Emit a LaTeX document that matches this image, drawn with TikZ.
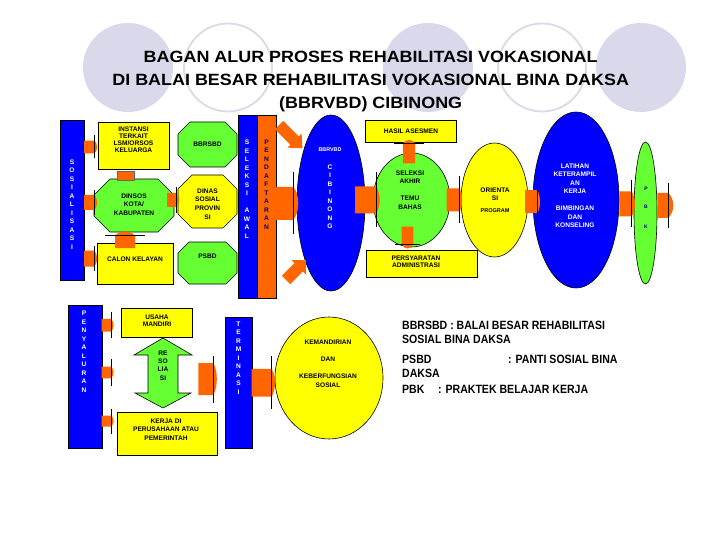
\documentclass[tikz,border=0pt]{standalone}
\usepackage{fontspec}
\setmainfont{Liberation Sans}
\newfontfamily\titlefont[FakeStretch=1.1]{Liberation Sans}
\newfontfamily\legfont[FakeStretch=0.88]{Liberation Sans}
\usetikzlibrary{shapes.geometric}
\definecolor{cblue}{RGB}{0,0,255}
\definecolor{corange}{RGB}{255,102,0}
\definecolor{cgreen}{RGB}{102,255,51}
\definecolor{cyellow}{RGB}{255,255,0}
\definecolor{cnavy}{RGB}{0,0,128}
\definecolor{lav}{RGB}{217,217,235}
\definecolor{lavline}{RGB}{218,218,232}
\tikzset{
 sm/.style={font=\fontsize{6.6}{8.5}\selectfont\bfseries, align=center, inner sep=0pt},
 vt/.style={sm, text=white},
 box/.style={draw=black, line width=0.6pt},
 headline/.style={draw=black, line width=0.8pt},
}
\newcommand\rbox[6]{\node[box, fill=#6, inner sep=0pt, minimum width={(#4-#2)*1pt}, minimum height={(#5-#3)*1pt}, anchor=north west] (#1) at (#2,#3) {};}
\newcommand\octa[7]{\filldraw[fill=#7, draw=black, line width=0.6pt] ({#2+#6},#3) -- ({#4-#6},#3) -- (#4,{#3+#6}) -- (#4,{#5-#6}) -- ({#4-#6},#5) -- ({#2+#6},#5) -- (#2,{#5-#6}) -- (#2,{#3+#6}) -- cycle; \coordinate (#1) at ({(#2+#4)/2},{(#3+#5)/2});}
\newcommand\harr[6]{\fill[corange] (#1,{#4-#5/2}) -- (#2,{#4-#5/2}) .. controls (#3,{#4-#5/4}) and (#3,{#4+#5/4}) .. (#2,{#4+#5/2}) -- (#1,{#4+#5/2}) -- cycle;
 \draw[headline] (#2,{#4-#6/2}) -- (#2,{#4+#6/2});}
\newcommand\varr[6]{\fill[corange] ({#1-#5/2},#2) -- ({#1-#5/2},#3) .. controls ({#1-#5/4},#4) and ({#1+#5/4},#4) .. ({#1+#5/2},#3) -- ({#1+#5/2},#2) -- cycle;
 \draw[headline] ({#1-#6/2},#3) -- ({#1+#6/2},#3);}
\begin{document}
\begin{tikzpicture}[x=1pt,y=-1pt]
\useasboundingbox (0,0) rectangle (720,540);
\fill[white] (0,0) rectangle (720,540);
% background circles
\foreach \cx in {128,428,641} \fill[lav] (\cx,67.5) ellipse [x radius=45, y radius=44.5];
\foreach \cx in {228,542} \draw[lavline, line width=1.8pt] (\cx,67.5) ellipse [x radius=44, y radius=44];
% title
\node[font=\titlefont\fontsize{16.3}{23}\selectfont\bfseries, align=center, inner sep=0pt] (title) at (370.7,81.5)
 {BAGAN ALUR PROSES REHABILITASI VOKASIONAL\\DI BALAI BESAR REHABILITASI VOKASIONAL BINA DAKSA\\(BBRVBD) CIBINONG};
% bars
\rbox{sosbar}{60}{120}{84}{280}{cblue}
\rbox{selbar}{238}{115}{257}{298}{cblue}
\rbox{pendbar}{257}{115}{276}{298}{corange}
\rbox{penybar}{68}{305}{102}{448}{cblue}
\rbox{termbar}{225}{317}{252}{448}{cblue}
% boxes
\rbox{inst}{98}{122}{169}{169}{cyellow}
\rbox{calon}{97}{243}{173}{284}{cyellow}
\rbox{hasil}{365}{120}{456}{142}{cyellow}
\rbox{pers}{366}{250}{477}{277}{cyellow}
\rbox{usaha}{121}{308}{192}{337}{cyellow}
\rbox{kerja}{117}{412}{217}{455}{cyellow}
% octagons
\octa{bbrsbd}{178}{122}{237}{167}{12}{cgreen}
\octa{dinsos}{94}{179}{174}{232}{16}{cgreen}
\octa{dinas}{178}{175}{237}{228}{14}{cyellow}
\octa{psbd}{178}{242}{237}{284}{11}{cgreen}
% ellipses
\node[ellipse, box, fill=cblue, inner sep=0pt, minimum width=68pt, minimum height=176pt] (bbrvbd) at (331,203) {};
\node[ellipse, box, fill=cgreen, inner sep=0pt, minimum width=77pt, minimum height=94pt] (selakhir) at (411.5,200) {};
\node[ellipse, box, fill=cyellow, inner sep=0pt, minimum width=67pt, minimum height=114pt] (orient) at (494.5,200) {};
\node[ellipse, box, fill=cblue, inner sep=0pt, minimum width=86pt, minimum height=176pt] (latihan) at (576,200) {};
\node[ellipse, box, fill=cgreen, inner sep=0pt, minimum width=23pt, minimum height=142pt] (pbk) at (645.5,213) {};
\node[ellipse, box, fill=cyellow, inner sep=0pt, minimum width=108pt, minimum height=122pt] (kemand) at (329,378) {};
% resosialisasi double arrow
\filldraw[fill=cgreen, draw=black, line width=0.6pt] (163,338) -- (192,355) -- (178,355) -- (178,393) -- (191,393) -- (163,408) -- (135,393) -- (148,393) -- (148,355) -- (134,355) -- cycle;
\coordinate (reso) at (163,373);
% orange connectors
\filldraw[fill=corange, draw=black!60, line width=0.4pt] (117.3,171) rectangle (134.3,180);
\harr{84}{94.5}{98}{147}{12.7}{23}
\harr{84}{94.5}{98}{202.5}{15}{25}
\harr{84}{94.5}{98}{258.5}{16}{25}
\harr{167}{176}{180}{200}{14}{26}
\harr{276}{293.3}{300}{203.3}{33}{62}
\harr{355}{376}{381}{200}{27}{55}
\harr{446.7}{459.3}{463}{200}{23}{47}
\harr{525}{537.3}{541}{201.7}{23}{45}
\harr{619.3}{631.7}{636}{204}{25}{47}
\harr{657.3}{668.3}{675}{205.5}{25}{45}
\harr{101.7}{111}{114.5}{325.3}{12.7}{26}
\harr{101.7}{111}{114.5}{372.5}{11.7}{27}
\harr{101.7}{111}{114.5}{421}{11}{25}
\harr{198.3}{213.3}{218}{379}{32}{47}
\harr{251.7}{271.7}{276}{382.8}{27.7}{53}
\varr{125}{248}{235.7}{230}{20}{40}
\varr{409}{163.5}{143.3}{139}{12.3}{30}
\varr{407.5}{226.7}{244}{250}{11.6}{25}
\begin{scope}[shift={(279,125)}, rotate=-45]
 \fill[corange] (0,-6) -- (22,-6) -- (22,-10) -- (33,0) -- (22,10) -- (22,6) -- (0,6) -- cycle;
\end{scope}
\begin{scope}[shift={(286,280)}, rotate=45]
 \fill[corange] (0,-6) -- (18,-6) -- (18,-10) -- (28,0) -- (18,10) -- (18,6) -- (0,6) -- cycle;
\end{scope}
% texts
\node[sm, font=\fontsize{6.6}{7}\selectfont\bfseries] (tinst) at (133.5,139.5) {INSTANSI\\TERKAIT\\LSM/ORSOS\\KELUARGA};
\node[sm] (tbbrsbd) at (207.5,144) {BBRSBD};
\node[sm] (tdinsos) at (134,204.5) {DINSOS\\KOTA/\\KABUPATEN};
\node[sm, font=\fontsize{6.6}{8.7}\selectfont\bfseries] (tdinas) at (207.5,204) {DINAS\\SOSIAL\\PROVIN\\SI};
\node[sm] (tcalon) at (135,259) {CALON KELAYAN};
\node[sm] (tpsbd) at (207.5,256) {PSBD};
\node[vt] (tsos) at (72,204.5) {S\\O\\S\\I\\A\\L\\I\\S\\A\\S\\I};
\node[vt] (tsel) at (247,189) {S\\E\\L\\E\\K\\S\\I\\~\\A\\W\\A\\L};
\node[sm, text=cnavy] (tpend) at (266.5,184.5) {P\\E\\N\\D\\A\\F\\T\\A\\R\\A\\N};
\node[sm, text=white, font=\fontsize{5.4}{6}\selectfont\bfseries] (tbbrvbd) at (330,150) {BBRVBD};
\node[vt] (tcib) at (330,196.5) {C\\I\\B\\I\\N\\O\\N\\G};
\node[sm] (thasil) at (411,131) {HASIL ASESMEN};
\node[sm] (tselakhir) at (410,190) {SELEKSI\\AKHIR\\~\\TEMU\\BAHAS};
\node[sm, font=\fontsize{6.6}{7.5}\selectfont\bfseries] (tpers) at (416,261.5) {PERSYARATAN\\ADMINISTRASI};
\node[sm] (tori) at (495,194) {ORIENTA\\SI};
\node[sm, font=\fontsize{5.5}{6}\selectfont\bfseries] (tprog) at (495,211) {PROGRAM};
\node[vt] (tlat) at (575,196) {LATIHAN\\KETERAMPIL\\AN\\KERJA\\~\\BIMBINGAN\\DAN\\KONSELING};
\node[sm, font=\fontsize{5}{6}\selectfont\bfseries, text=cnavy] (tp) at (646,189) {P};
\node[sm, font=\fontsize{5}{6}\selectfont\bfseries, text=cnavy] (tb) at (646,207) {B};
\node[sm, font=\fontsize{5}{6}\selectfont\bfseries, text=cnavy] (tk) at (646,227) {K};
\node[vt] (tpeny) at (84,351.5) {P\\E\\N\\Y\\A\\L\\U\\R\\A\\N};
\node[sm, font=\fontsize{6.6}{7.5}\selectfont\bfseries] (tusaha) at (157,320.5) {USAHA\\MANDIRI};
\node[sm, font=\fontsize{6.6}{8.3}\selectfont\bfseries] (treso) at (163,365.5) {RE\\SO\\LIA\\SI};
\node[sm] (tkerja) at (166,429.5) {KERJA DI\\PERUSAHAAN ATAU\\PEMERINTAH};
\node[vt] (tterm) at (238.5,358) {T\\E\\R\\M\\I\\N\\A\\S\\I};
\node[sm] (tkem) at (328,364) {KEMANDIRIAN\\~\\DAN\\~\\KEBERFUNGSIAN\\SOSIAL};
% legend
\tikzset{leg/.style={font=\legfont\fontsize{12}{14}\selectfont\bfseries, anchor=west, inner sep=0pt}}
\node[leg] (l1) at (402,325) {BBRSBD : BALAI BESAR REHABILITASI};
\node[leg] (l2) at (402,339) {SOSIAL BINA DAKSA};
\node[leg] (l3) at (402,359) {PSBD};
\node[leg] (l3b) at (508,359) {: PANTI SOSIAL BINA};
\node[leg] (l4) at (402,373) {DAKSA};
\node[leg] (l5) at (402,389) {PBK};
\node[leg] (l5b) at (438,389) {: PRAKTEK BELAJAR KERJA};
\end{tikzpicture}
\end{document}
